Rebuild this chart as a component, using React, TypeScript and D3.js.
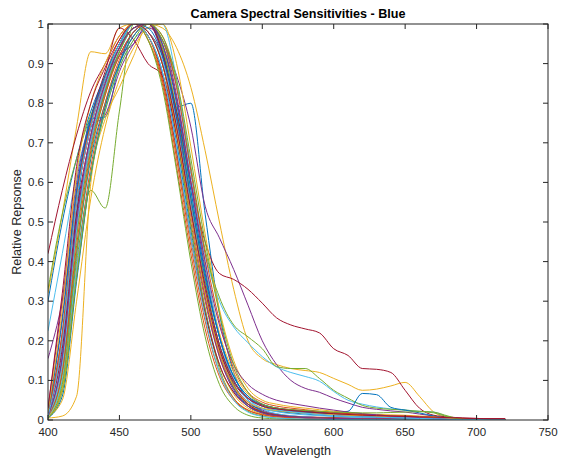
import React from 'react';
import * as d3 from 'd3';

const wavelengths = [400, 410, 420, 430, 440, 450, 460, 470, 480, 490, 500, 510, 520, 530, 540, 550, 560, 570, 580, 590, 600, 610, 620, 630, 640, 650, 660, 670, 680, 690, 700, 710, 720];

const xTicks = [400, 450, 500, 550, 600, 650, 700, 750];
const yTicks = [0, 0.1, 0.2, 0.3, 0.4, 0.5, 0.6, 0.7, 0.8, 0.9, 1];
const yTickLabels = ['0', '0.1', '0.2', '0.3', '0.4', '0.5', '0.6', '0.7', '0.8', '0.9', '1'];

const colorOrder = ['#0072BD', '#D95319', '#EDB120', '#7E2F8E', '#77AC30', '#4DBEEE', '#A2142F'];

const b1 = [0.30, 0.50, 0.66, 0.78, 0.87, 0.95, 1.00, 0.97, 0.88, 0.70, 0.48, 0.28, 0.14, 0.07, 0.04, 0.028, 0.022, 0.018, 0.015, 0.012, 0.01, 0.008, 0.007, 0.006, 0.005, 0.004, 0.003, 0.002, 0.001, 0.001, 0.001, 0.001, 0.001];
const o1 = [0.02, 0.20, 0.55, 0.74, 0.86, 0.95, 1.00, 0.98, 0.90, 0.72, 0.50, 0.30, 0.16, 0.08, 0.04, 0.022, 0.014, 0.01, 0.008, 0.007, 0.006, 0.005, 0.004, 0.004, 0.003, 0.003, 0.002, 0.002, 0.002, 0.001, 0.001, 0.001, 0.001];
const yA = [0.32, 0.52, 0.74, 0.93, 0.925, 0.99, 1.00, 0.96, 0.86, 0.67, 0.46, 0.27, 0.14, 0.065, 0.03, 0.016, 0.01, 0.008, 0.006, 0.005, 0.004, 0.004, 0.003, 0.003, 0.003, 0.002, 0.002, 0.002, 0.001, 0.001, 0.001, 0.001, 0.001];
const p1 = [0.155, 0.30, 0.52, 0.70, 0.83, 0.93, 0.99, 1.00, 0.93, 0.76, 0.54, 0.33, 0.18, 0.09, 0.045, 0.025, 0.015, 0.01, 0.008, 0.006, 0.005, 0.004, 0.004, 0.003, 0.003, 0.002, 0.002, 0.002, 0.001, 0.001, 0.001, 0.001, 0.001];
const g1 = [0.01, 0.10, 0.40, 0.58, 0.535, 0.78, 1.00, 0.98, 0.90, 0.72, 0.49, 0.28, 0.13, 0.055, 0.022, 0.01, 0.005, 0.003, 0.002, 0.002, 0.001, 0.001, 0.001, 0.001, 0.001, 0.001, 0, 0, 0, 0, 0, 0, 0];
const c1 = [0.225, 0.42, 0.62, 0.76, 0.86, 0.94, 0.99, 1.00, 0.95, 0.80, 0.58, 0.37, 0.21, 0.11, 0.055, 0.028, 0.016, 0.011, 0.008, 0.006, 0.005, 0.004, 0.003, 0.003, 0.002, 0.002, 0.002, 0.001, 0.001, 0.001, 0.001, 0.001, 0.001];
const r1 = [0.42, 0.58, 0.72, 0.83, 0.90, 0.97, 1.00, 0.97, 0.87, 0.68, 0.46, 0.27, 0.14, 0.07, 0.035, 0.02, 0.013, 0.009, 0.007, 0.006, 0.005, 0.004, 0.004, 0.003, 0.003, 0.003, 0.002, 0.002, 0.002, 0.002, 0.001, 0.001, 0.001];

const b2 = [0.01, 0.12, 0.42, 0.66, 0.80, 0.90, 0.97, 1.00, 0.93, 0.79, 0.80, 0.52, 0.27, 0.12, 0.05, 0.022, 0.012, 0.008, 0.006, 0.005, 0.004, 0.003, 0.003, 0.002, 0.002, 0.002, 0.001, 0.001, 0.001, 0.001, 0.001, 0.001, 0.001];
const o2 = [0.005, 0.08, 0.38, 0.64, 0.80, 0.91, 0.98, 1.00, 0.94, 0.78, 0.56, 0.35, 0.19, 0.10, 0.055, 0.038, 0.03, 0.025, 0.021, 0.018, 0.015, 0.013, 0.011, 0.01, 0.009, 0.008, 0.007, 0.005, 0.003, 0.002, 0.002, 0.001, 0.001];
const yB = [0.01, 0.08, 0.36, 0.62, 0.79, 0.90, 0.97, 1.00, 0.99, 0.94, 0.84, 0.68, 0.50, 0.33, 0.20, 0.155, 0.14, 0.13, 0.125, 0.12, 0.105, 0.09, 0.075, 0.078, 0.086, 0.095, 0.06, 0.02, 0.006, 0.002, 0.001, 0.001, 0.001];
const p2 = [0.01, 0.15, 0.48, 0.70, 0.83, 0.92, 0.98, 1.00, 0.96, 0.87, 0.74, 0.54, 0.46, 0.38, 0.29, 0.20, 0.14, 0.10, 0.08, 0.07, 0.055, 0.043, 0.032, 0.027, 0.023, 0.02, 0.015, 0.01, 0.005, 0.002, 0.001, 0.001, 0.001];
const g2 = [0.33, 0.52, 0.66, 0.77, 0.86, 0.94, 0.99, 1.00, 0.94, 0.78, 0.56, 0.35, 0.19, 0.09, 0.04, 0.02, 0.012, 0.008, 0.006, 0.005, 0.004, 0.003, 0.003, 0.002, 0.002, 0.002, 0.001, 0.001, 0.001, 0.001, 0.001, 0.001, 0.001];
const c2 = [0.015, 0.18, 0.50, 0.71, 0.84, 0.93, 0.99, 1.00, 0.96, 0.84, 0.62, 0.42, 0.30, 0.235, 0.195, 0.16, 0.134, 0.12, 0.11, 0.098, 0.072, 0.05, 0.04, 0.033, 0.028, 0.025, 0.022, 0.02, 0.008, 0.001, 0.001, 0.001, 0.001];
const r2 = [0.02, 0.22, 0.55, 0.74, 0.86, 0.95, 1.00, 0.98, 0.92, 0.78, 0.60, 0.45, 0.37, 0.355, 0.33, 0.295, 0.258, 0.24, 0.23, 0.22, 0.18, 0.163, 0.13, 0.128, 0.12, 0.075, 0.03, 0.012, 0.008, 0.005, 0.004, 0.003, 0.003];

const b3 = [0.01, 0.16, 0.52, 0.76, 0.765, 0.90, 0.98, 1.00, 0.93, 0.76, 0.53, 0.32, 0.17, 0.08, 0.035, 0.018, 0.01, 0.007, 0.005, 0.004, 0.003, 0.003, 0.002, 0.002, 0.002, 0.001, 0.001, 0.001, 0.001, 0.001, 0.001, 0.001, 0.001];
const o3 = [0.01, 0.14, 0.47, 0.70, 0.84, 0.94, 1.00, 0.97, 0.86, 0.66, 0.44, 0.25, 0.12, 0.055, 0.025, 0.013, 0.008, 0.006, 0.005, 0.004, 0.004, 0.003, 0.003, 0.003, 0.002, 0.002, 0.002, 0.002, 0.001, 0.001, 0.001, 0.001, 0.001];
const yC = [0.005, 0.01, 0.06, 0.60, 0.76, 0.84, 0.92, 1.00, 0.96, 0.81, 0.60, 0.39, 0.22, 0.12, 0.065, 0.04, 0.03, 0.026, 0.022, 0.02, 0.018, 0.016, 0.014, 0.012, 0.011, 0.01, 0.008, 0.006, 0.003, 0.001, 0.001, 0.001, 0.001];
const p3 = [0.02, 0.26, 0.58, 0.74, 0.77, 0.88, 0.95, 0.99, 0.96, 0.82, 0.60, 0.38, 0.21, 0.10, 0.055, 0.035, 0.027, 0.022, 0.018, 0.015, 0.012, 0.01, 0.008, 0.006, 0.005, 0.004, 0.003, 0.002, 0.001, 0.001, 0.001, 0.001, 0.001];
const g3 = [0.01, 0.12, 0.46, 0.69, 0.83, 0.93, 0.99, 1.00, 0.96, 0.85, 0.64, 0.43, 0.31, 0.24, 0.21, 0.18, 0.135, 0.13, 0.13, 0.105, 0.075, 0.055, 0.037, 0.03, 0.027, 0.025, 0.022, 0.02, 0.01, 0.002, 0.001, 0.001, 0.001];
const c3 = [0.01, 0.10, 0.38, 0.62, 0.78, 0.89, 0.96, 0.99, 1.00, 0.86, 0.63, 0.40, 0.21, 0.10, 0.05, 0.03, 0.021, 0.016, 0.013, 0.011, 0.009, 0.007, 0.006, 0.005, 0.004, 0.003, 0.002, 0.002, 0.001, 0.001, 0.001, 0.001, 0.001];
const r3 = [0.01, 0.20, 0.56, 0.76, 0.88, 0.99, 0.96, 0.90, 0.87, 0.72, 0.52, 0.32, 0.17, 0.085, 0.04, 0.02, 0.012, 0.008, 0.006, 0.005, 0.004, 0.004, 0.003, 0.003, 0.003, 0.002, 0.002, 0.002, 0.002, 0.002, 0.002, 0.002, 0.002];

const b4 = [0.005, 0.06, 0.35, 0.62, 0.79, 0.90, 0.97, 1.00, 0.95, 0.80, 0.58, 0.37, 0.21, 0.11, 0.06, 0.035, 0.025, 0.02, 0.02, 0.02, 0.019, 0.022, 0.067, 0.064, 0.032, 0.025, 0.018, 0.01, 0.004, 0.001, 0.001, 0.001, 0.001];
const o4 = [0.015, 0.22, 0.56, 0.75, 0.87, 0.96, 1.00, 0.96, 0.85, 0.64, 0.42, 0.23, 0.11, 0.05, 0.025, 0.014, 0.009, 0.007, 0.006, 0.005, 0.005, 0.004, 0.004, 0.004, 0.003, 0.003, 0.003, 0.002, 0.002, 0.002, 0.002, 0.002, 0.002];
const y4 = [0.01, 0.05, 0.30, 0.56, 0.74, 0.86, 0.94, 0.99, 1.00, 0.90, 0.69, 0.47, 0.28, 0.15, 0.08, 0.05, 0.04, 0.034, 0.03, 0.026, 0.022, 0.019, 0.016, 0.014, 0.013, 0.012, 0.01, 0.008, 0.004, 0.002, 0.001, 0.001, 0.001];
const p4 = [0.03, 0.30, 0.60, 0.76, 0.86, 0.92, 0.95, 1.00, 0.92, 0.74, 0.52, 0.31, 0.16, 0.075, 0.035, 0.018, 0.011, 0.008, 0.006, 0.005, 0.004, 0.004, 0.003, 0.003, 0.003, 0.002, 0.002, 0.002, 0.002, 0.001, 0.001, 0.001, 0.001];
const g4 = [0.005, 0.09, 0.42, 0.67, 0.82, 0.93, 1.00, 0.96, 0.84, 0.63, 0.40, 0.21, 0.09, 0.035, 0.012, 0.005, 0.003, 0.002, 0.001, 0.001, 0.001, 0.001, 0.001, 0, 0, 0, 0, 0, 0, 0, 0, 0, 0];
const c4 = [0.008, 0.14, 0.48, 0.70, 0.84, 0.94, 1.00, 0.97, 0.88, 0.69, 0.46, 0.26, 0.12, 0.05, 0.02, 0.009, 0.005, 0.003, 0.002, 0.002, 0.001, 0.001, 0.001, 0.001, 0.001, 0, 0, 0, 0, 0, 0, 0, 0];
const r4 = [0.015, 0.18, 0.52, 0.72, 0.85, 0.94, 0.99, 1.00, 0.93, 0.76, 0.54, 0.33, 0.18, 0.095, 0.055, 0.038, 0.03, 0.026, 0.023, 0.02, 0.018, 0.016, 0.014, 0.012, 0.011, 0.01, 0.008, 0.007, 0.005, 0.004, 0.003, 0.003, 0.003];

const b5 = [0.02, 0.25, 0.58, 0.76, 0.87, 0.95, 1.00, 0.99, 0.92, 0.77, 0.56, 0.36, 0.21, 0.11, 0.06, 0.04, 0.03, 0.025, 0.021, 0.018, 0.015, 0.012, 0.01, 0.008, 0.006, 0.005, 0.004, 0.003, 0.002, 0.001, 0.001, 0.001, 0.001];
const o5 = [0.01, 0.12, 0.44, 0.68, 0.82, 0.92, 0.98, 1.00, 0.97, 0.84, 0.63, 0.42, 0.25, 0.13, 0.07, 0.045, 0.035, 0.03, 0.026, 0.022, 0.018, 0.015, 0.013, 0.012, 0.011, 0.01, 0.009, 0.007, 0.004, 0.002, 0.001, 0.001, 0.001];
const y5 = [0.02, 0.28, 0.62, 0.80, 0.90, 0.97, 1.00, 0.98, 0.90, 0.73, 0.52, 0.32, 0.17, 0.085, 0.045, 0.03, 0.024, 0.02, 0.017, 0.015, 0.013, 0.012, 0.011, 0.01, 0.01, 0.009, 0.008, 0.007, 0.004, 0.002, 0.001, 0.001, 0.001];
const p5 = [0.01, 0.16, 0.50, 0.72, 0.85, 0.94, 0.99, 1.00, 0.95, 0.81, 0.60, 0.40, 0.24, 0.14, 0.09, 0.065, 0.05, 0.042, 0.036, 0.03, 0.025, 0.02, 0.016, 0.013, 0.01, 0.008, 0.006, 0.004, 0.002, 0.001, 0.001, 0.001, 0.001];
const g5 = [0.005, 0.07, 0.36, 0.62, 0.78, 0.89, 0.96, 1.00, 0.97, 0.86, 0.66, 0.45, 0.27, 0.14, 0.07, 0.04, 0.03, 0.026, 0.024, 0.022, 0.02, 0.019, 0.018, 0.018, 0.019, 0.02, 0.021, 0.018, 0.008, 0.002, 0.001, 0.001, 0.001];
const c5 = [0.01, 0.20, 0.55, 0.74, 0.86, 0.95, 1.00, 0.98, 0.91, 0.75, 0.54, 0.34, 0.19, 0.10, 0.055, 0.035, 0.026, 0.021, 0.017, 0.014, 0.011, 0.009, 0.008, 0.007, 0.006, 0.005, 0.004, 0.003, 0.002, 0.001, 0.001, 0.001, 0.001];
const r5 = [0.03, 0.32, 0.64, 0.80, 0.89, 0.96, 1.00, 0.98, 0.90, 0.74, 0.53, 0.34, 0.19, 0.10, 0.055, 0.035, 0.028, 0.024, 0.021, 0.018, 0.016, 0.014, 0.012, 0.011, 0.01, 0.009, 0.008, 0.007, 0.006, 0.005, 0.004, 0.003, 0.003];

const series = [
  b1, o1, yA, p1, g1, c1, r1,
  b2, o2, yB, p2, g2, c2, r2,
  b3, o3, yC, p3, g3, c3, r3,
  b4, o4, y4, p4, g4, c4, r4,
  b5, o5, y5, p5, g5, c5, r5,
];

const W = 561;
const H = 461;
const margin = { left: 48, right: 13, top: 24, bottom: 41 };
const FONT = "'Liberation Sans', Arial, Helvetica, sans-serif";
const AX = '#262626';

export default function App() {
  const x = d3.scaleLinear().domain([400, 750]).range([margin.left, W - margin.right]);
  const y = d3.scaleLinear().domain([0, 1]).range([H - margin.bottom, margin.top]);
  const line = d3
    .line<number>()
    .x((_, i) => x(wavelengths[i]))
    .y((d) => y(d))
    .curve(d3.curveMonotoneX);

  const x0 = x(400);
  const x1 = x(750);
  const y0 = y(0);
  const y1 = y(1);
  const tl = 5;

  return (
    <div style={{ position: 'absolute', left: 0, top: 0 }}>
      <svg width={W} height={H} style={{ display: 'block', background: '#fff' }} fontFamily={FONT}>
        <defs>
          <clipPath id="plotclip">
            <rect x={x0} y={y1} width={x1 - x0} height={y0 - y1} />
          </clipPath>
        </defs>
        <rect x={0} y={0} width={W} height={H} fill="#fff" />
        <g clipPath="url(#plotclip)">
          {series.map((s, i) => (
            <path
              key={i}
              d={line(s) || ''}
              fill="none"
              stroke={colorOrder[i % colorOrder.length]}
              strokeWidth={1}
              strokeLinejoin="round"
            />
          ))}
        </g>
        <rect x={x0} y={y1} width={x1 - x0} height={y0 - y1} fill="none" stroke={AX} strokeWidth={1} />
        {xTicks.map((t) => (
          <g key={'x' + t}>
            <line x1={x(t)} x2={x(t)} y1={y0} y2={y0 - tl} stroke={AX} strokeWidth={1} />
            <line x1={x(t)} x2={x(t)} y1={y1} y2={y1 + tl} stroke={AX} strokeWidth={1} />
            <text x={x(t)} y={y0 + 16} textAnchor="middle" fontSize={11.5} fill={AX}>
              {t}
            </text>
          </g>
        ))}
        {yTicks.map((t, i) => (
          <g key={'y' + t}>
            <line x1={x0} x2={x0 + tl} y1={y(t)} y2={y(t)} stroke={AX} strokeWidth={1} />
            <line x1={x1} x2={x1 - tl} y1={y(t)} y2={y(t)} stroke={AX} strokeWidth={1} />
            <text x={x0 - 4} y={y(t) + 4} textAnchor="end" fontSize={11.5} fill={AX}>
              {yTickLabels[i]}
            </text>
          </g>
        ))}
        <text x={(x0 + x1) / 2} y={y0 + 35} textAnchor="middle" fontSize={12.6} fill={AX}>
          Wavelength
        </text>
        <text
          transform={`translate(${21},${(y0 + y1) / 2}) rotate(-90)`}
          textAnchor="middle"
          fontSize={12.6}
          fill={AX}
        >
          Relative Repsonse
        </text>
        <text x={(x0 + x1) / 2} y={y1 - 6} textAnchor="middle" fontSize={12.6} fontWeight="bold" fill="#000">
          Camera Spectral Sensitivities - Blue
        </text>
      </svg>
    </div>
  );
}
